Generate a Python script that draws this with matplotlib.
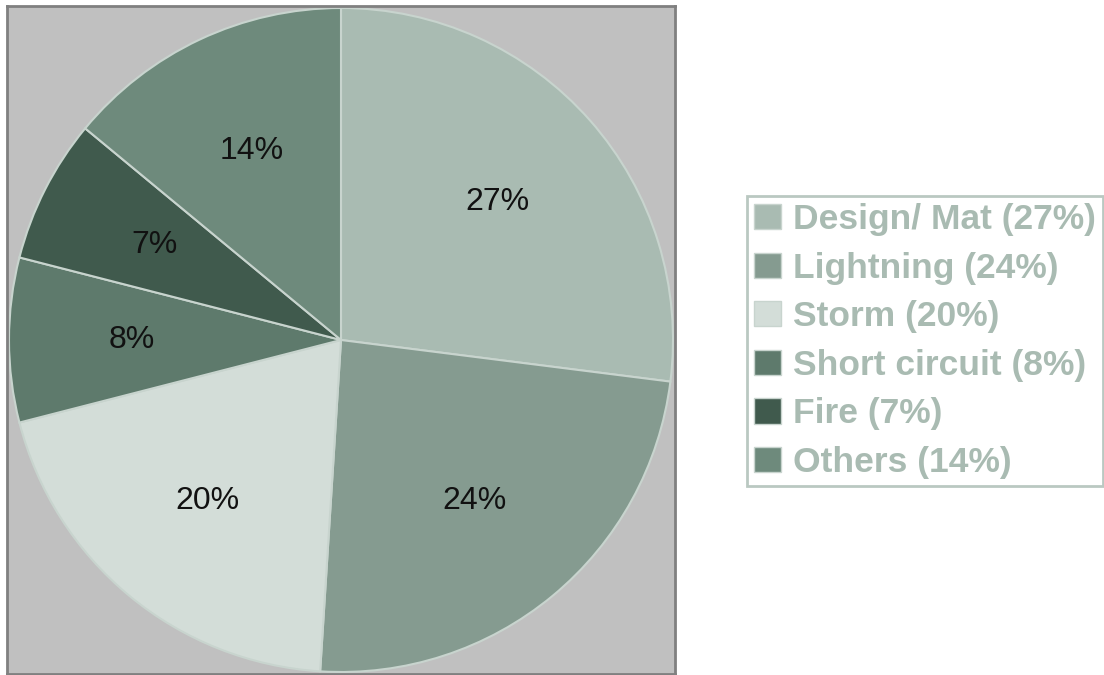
import matplotlib.pyplot as plt
from matplotlib.patches import Patch

causes = ["Design/ Mat", "Lightning", "Storm", "Short circuit", "Fire", "Others"]
shares = [27, 24, 20, 8, 7, 14]
colors = ["#a9bbb2", "#859b90", "#d3ddd8", "#5e7a6c", "#405a4d", "#6e8a7c"]

plt.rcParams['font.family'] = ['Liberation Sans', 'DejaVu Sans']

fig = plt.figure(figsize=(11.04, 6.75), dpi=100)
ax = fig.add_axes([7 / 1104, 1 / 675, 668 / 1104, 668 / 675])

ax.pie(shares, colors=colors, startangle=90, counterclock=False,
       autopct=lambda p: f"{p:.0f}%", pctdistance=0.63,
       wedgeprops=dict(edgecolor="#c8d4ce", linewidth=1.5),
       textprops=dict(fontsize=23, color="#111111"))
ax.set_frame_on(True)
ax.set_facecolor("#c0c0c0")
for s in ax.spines.values():
    s.set_visible(True)
    s.set_color("#808080")
    s.set_linewidth(2)
ax.set_xlim(-1.006, 1.006)
ax.set_ylim(-1.006, 1.006)
ax.set_aspect("equal")
ax.set_xticks([])
ax.set_yticks([])

handles = [Patch(facecolor=c, edgecolor="#c8d4ce", linewidth=1) for c in colors]
labels = [f"{n} ({v}%)" for n, v in zip(causes, shares)]
leg = fig.legend(handles, labels, loc="center left", bbox_to_anchor=(747 / 1104, 1 - 341 / 675),
                 frameon=True, fancybox=False, fontsize=25.5, handlelength=0.77, handleheight=0.72,
                 handletextpad=0.34, labelspacing=0.44, borderpad=0.2, borderaxespad=0)
leg.get_frame().set_edgecolor("#a9bbb2")
leg.get_frame().set_linewidth(2)
for t in leg.get_texts():
    t.set_color("#a9bbb2")
    t.set_fontweight("bold")

fig.savefig("out.png", dpi=100)
